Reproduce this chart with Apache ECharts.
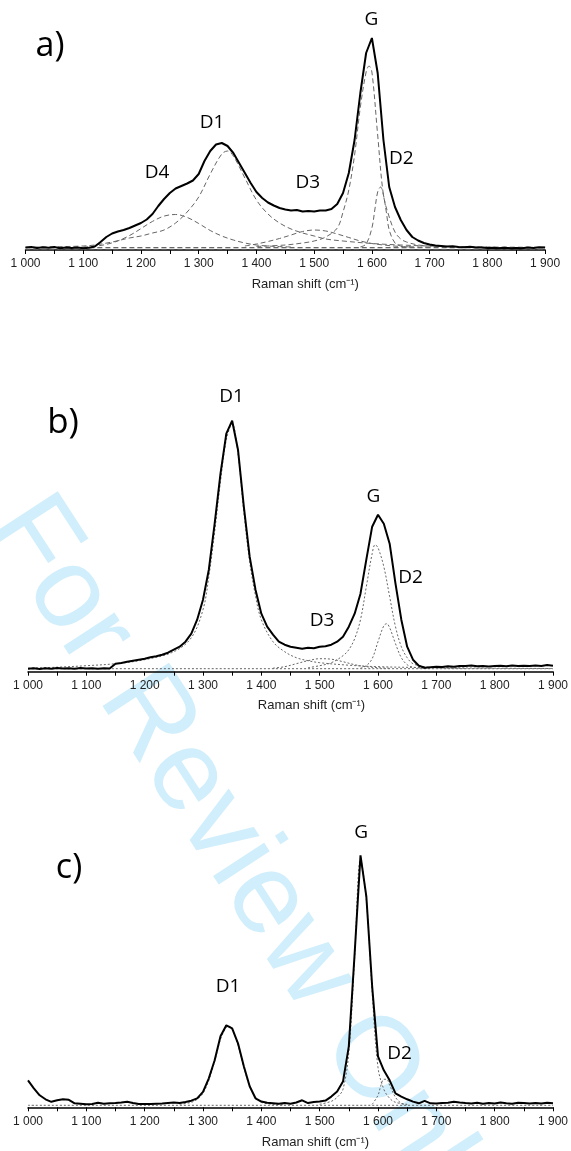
<!DOCTYPE html>
<html><head><meta charset="utf-8">
<script src="https://cdn.jsdelivr.net/npm/echarts@6/dist/echarts.min.js"></script>
<style>html,body{margin:0;padding:0;background:#fff}#c{width:571px;height:1151px}</style>
</head><body><div id="c"></div><script>
// Raman shift sampling (cm-1)
const waveX = [
1000,1010,1020,1030,1040,1050,1060,1070,1080,1090,
1100,1110,1120,1130,1140,1150,1160,1170,1180,1190,
1200,1210,1220,1230,1240,1250,1260,1270,1280,1290,
1300,1310,1320,1330,1340,1350,1360,1370,1380,1390,
1400,1410,1420,1430,1440,1450,1460,1470,1480,1490,
1500,1510,1520,1530,1540,1550,1560,1570,1580,1590,
1600,1610,1620,1630,1640,1650,1660,1670,1680,1690,
1700,1710,1720,1730,1740,1750,1760,1770,1780,1790,
1800,1810,1820,1830,1840,1850,1860,1870,1880,1890,
1900];
// measured spectra (intensity, arbitrary units)
const specA = [
2.5,3,2,2.8,2.2,3,1.8,2.6,2,2.4,
1.8,2.2,3.5,8,13,16.5,18.5,20,22,24.5,
27,30.5,36,44,51,57,61.5,64,66.5,69.5,
76,89,99,105.5,107,104,97,87,77,67,
58,52,47.5,44.5,42,40.5,39.5,40,38.5,39,
38.5,39.5,39.5,41,46,57,77,110,157,197,
212,177,110,63,43,30,20,13,9.5,7,
5.5,4.5,4,3.5,3.8,3,2.8,3.2,2.4,2.6,
2,2.3,1.8,2.2,1.7,2,1.8,2.4,2,2.8,
2.5];
const specB = [
3,3.5,2.8,3.4,3,3.6,3.1,3.5,3,3.6,
3.2,3.5,3,3.4,3.2,8,8.8,10,11,12,
13,14.5,15.5,17,19,22,25,30,38,52,
72,102,148,198,238,251,222,165,115,82,
58,45,37,30,27,25,24,23,24,23.5,
25,25.5,27,30,35,45,58,78,112,145,
157,148,128,88,52,25,12,6,4,4.5,
5,4.8,5.5,5,5.6,5.8,6.2,5.4,5.8,5.2,
5.8,6,5.5,6.2,5.6,6,5.6,6.2,5.8,6.8,
6];
const specC = [
27,19,12,8,5.5,7,8,7.5,4,3.5,
3,3.4,4.6,3.6,4,4.2,4.8,5.6,4.4,3.4,
3.2,3.4,3.6,3.8,4.4,4.8,4.4,5.4,6.6,9,
15.5,29,47,71,82,79,64,41,21,9,
5.7,4.5,4,3.5,4.2,3.6,4.8,7,4.2,5.2,
5.7,6.7,10.7,15.7,25.7,61,154,252,211,121,
51,37,27,14,10.7,8,5.7,4,6.5,4,
3.8,4.4,4.6,5.6,4.8,4.2,3.8,4.6,3.6,4.4,
3.8,4.8,4,3.6,4.6,4.2,3.8,4.4,3.8,4.6,
4];
// fitted components, panel a
const aD4X = [1100,1120,1140,1160,1180,1200,1220,1240,1260,1280,1300,1320,1340,1360,1380,1400,1420,1440,1460];
const aD4  = [3,3.8,5.6,9.1,14.4,21.4,28.6,33.9,35.5,32.6,26.5,19.5,14,10,7,5,4,3.4,3];
const aD1X = [1000,1050,1100,1120,1150,1180,1200,1220,1240,1260,1280,1300,1320,1340,1350,1360,1380,1400,1420,1440,1460,1480,1500,1520,1550,1600,1650,1700,1800,1900];
const aD1  = [2.7,3.2,4,5,8,12,14,17,20,27,38,53,76,96,99,94,72,50,36,27,21,17,14,11,9,6.5,5,4,3,2.7];
const aD3X = [1380,1400,1420,1440,1460,1480,1500,1520,1540,1560,1580,1600,1620,1650,1700];
const aD3  = [4,6,8.5,11.5,15,18.5,20,19,16,12.5,9,6.5,5,3.5,2.8];
const aGX  = [1400,1450,1480,1500,1520,1540,1550,1560,1570,1580,1590,1595,1600,1610,1620,1630,1640,1650,1660,1680,1700,1750,1800];
const aG   = [3.5,5,7,9,13,22,38,60,95,143,178,184,178,115,55,33,18,11,8,5,4,3,2.7];
const aD2X = [1580,1590,1600,1605,1610,1615,1620,1625,1630,1640,1650,1670];
const aD2  = [3,6,22,40,58,63,55,38,20,7,4,3];
const baseX = [1000,1900];
const aBase = [2.5,2.5];
const aBase2 = [0.8,0.8];
// fitted components, panel b
const bD1X = [1000,1050,1100,1150,1200,1250,1280,1300,1310,1320,1330,1340,1350,1360,1370,1380,1390,1400,1420,1440,1460,1480,1500,1550,1600,1700,1800,1900];
const bD1  = [3.5,4.5,6,8,12,20,34,62,95,140,190,232,248,218,160,110,76,52,30,20,14,11,9,6.5,5,4,3.5,3.2];
const bGX  = [1480,1500,1520,1540,1550,1560,1570,1580,1590,1595,1600,1610,1620,1630,1640,1650,1660,1680,1700,1750];
const bG   = [4,6,9,16,22,33,52,85,118,127,124,105,75,45,25,14,8,5,4,3.5];
const bD2X = [1570,1580,1590,1600,1610,1615,1620,1630,1640,1650,1660,1680];
const bD2  = [3.5,6,13,30,46,48,44,28,14,7,4.5,3.5];
const bD3X = [1420,1440,1460,1480,1500,1520,1540,1560,1580,1600,1620];
const bD3  = [3.5,5,8,11,13,12.5,10,7,5,4,3.5];
const bBase = [3,3];
// fitted components, panel c
const cD1X = [1260,1280,1290,1300,1310,1320,1330,1340,1345,1350,1360,1370,1380,1390,1400,1420,1440];
const cD1  = [3,5,8,14,27,46,68,80,81,78,62,40,21,10,5,3,2.5];
const cGX  = [1500,1520,1530,1540,1550,1560,1570,1580,1590,1600,1610,1620,1630,1650];
const cG   = [3,6,10,18,55,150,248,208,115,40,18,9,5,3];
const cD2X = [1590,1600,1605,1610,1615,1620,1630,1640,1650];
const cD2  = [3,12,22,28,28,22,10,4,2.5];
const cBase = [2,2];
// peak labels [name, x (cm-1), y (intensity)]
const aLabels = [['G',1599,230],['D1',1323,127],['D4',1228,77],['D3',1489,67],['D2',1651,91]];
const bLabels = [['D1',1349,275],['G',1592,175],['D2',1656,94],['D3',1504,51]];
const cLabels = [['G',1571,275],['D1',1343,121],['D2',1637,54]];
const panelNames = ['a)','b)','c)'];
const axisName = 'Raman shift (cm\u207B\u00B9)';

const zip = (xs, ys) => xs.map((x, i) => [x, ys[i]]);
const fmt = v => Math.floor(v / 1000) + ' ' + String(v % 1000).padStart(3, '0');

const grids = [
  {left: 25.5, width: 519.6, top: 0, height: 250, ymax: 250, namePad: 40, nameGap: 28},
  {left: 28, width: 525.2, top: 371.7, height: 300, ymax: 300, namePad: 42, nameGap: 27},
  {left: 28, width: 525.5, top: 807.3, height: 300, ymax: 300, namePad: 50, nameGap: 29}
];
const panels = [
  {spec: specA, comps: [[aD4X,aD4],[aD1X,aD1],[aD3X,aD3],[aGX,aG],[aD2X,aD2],[baseX,aBase],[baseX,aBase2]], dash: [5,3], color: '#666', labels: aLabels},
  {spec: specB, comps: [[bD1X,bD1],[bGX,bG],[bD2X,bD2],[bD3X,bD3],[baseX,bBase]], dash: [2,2], color: '#666', labels: bLabels},
  {spec: specC, comps: [[cD1X,cD1],[cGX,cG],[cD2X,cD2],[baseX,cBase]], dash: [2,2], color: '#666', labels: cLabels}
];

const option = {
  animation: false,
  backgroundColor: '#fff',
  grid: grids.map(g => ({left: g.left, width: g.width, top: g.top, height: g.height, containLabel: false})),
  xAxis: grids.map((g, i) => ({
    type: 'value', gridIndex: i, min: 1000, max: 1900, interval: 100,
    axisLine: {show: true, onZero: false, lineStyle: {color: '#000', width: 1.5}},
    axisTick: {show: true, length: 4, lineStyle: {color: '#000', width: 1}},
    minorTick: {show: true, splitNumber: 2, length: 4, lineStyle: {color: '#000', width: 1}},
    splitLine: {show: false}, minorSplitLine: {show: false},
    axisLabel: {formatter: fmt, color: '#222', fontFamily: 'Liberation Sans', fontSize: 12, margin: 8, showMinLabel: true, showMaxLabel: true, hideOverlap: false},
    name: axisName, nameLocation: 'middle', nameGap: g.nameGap,
    nameTextStyle: {color: '#222', fontFamily: 'Liberation Sans', fontSize: 13, padding: [0, 0, 0, g.namePad]}
  })),
  yAxis: grids.map((g, i) => ({type: 'value', gridIndex: i, min: 0, max: g.ymax, show: false})),
  series: [],
  graphic: [
    {type: 'text', z: -10, x: 61, y: 478, rotation: -57 * Math.PI / 180, silent: true,
     style: {text: 'For Review Only', font: '115px "Liberation Sans"', fill: '#d0eefb'}},
    {type: 'text', x: 50, y: 46, style: {text: panelNames[0], font: '34px "Open Sans"', fill: '#000', align: 'center', verticalAlign: 'middle'}},
    {type: 'text', x: 63, y: 423, style: {text: panelNames[1], font: '35px "Open Sans"', fill: '#000', align: 'center', verticalAlign: 'middle'}},
    {type: 'text', x: 69, y: 868, style: {text: panelNames[2], font: '34px "Open Sans"', fill: '#000', align: 'center', verticalAlign: 'middle'}}
  ]
};

panels.forEach((p, i) => {
  p.comps.forEach(c => option.series.push({
    type: 'line', xAxisIndex: i, yAxisIndex: i, data: zip(c[0], c[1]), showSymbol: false, symbol: 'none',
    smooth: 0.35, z: 3, silent: true,
    lineStyle: {color: p.color, width: 1, type: p.dash}
  }));
  option.series.push({
    type: 'line', xAxisIndex: i, yAxisIndex: i, data: zip(waveX, p.spec), showSymbol: false, symbol: 'none',
    z: 5, silent: true, lineStyle: {color: '#000', width: 2}
  });
});

const chart = echarts.init(document.getElementById('c'), null, {renderer: 'canvas'});
chart.setOption(option);

// peak labels placed through the axes' own scales
const labelGraphics = [];
panels.forEach((p, i) => {
  p.labels.forEach(l => {
    const pt = chart.convertToPixel({gridIndex: i}, [l[1], l[2]]);
    labelGraphics.push({type: 'text', x: pt[0], y: pt[1], z: 10,
      style: {text: l[0], font: '19px "Open Sans"', fill: '#000', align: 'center', verticalAlign: 'middle'}});
  });
});
chart.setOption({graphic: option.graphic.concat(labelGraphics)});
</script></body></html>
